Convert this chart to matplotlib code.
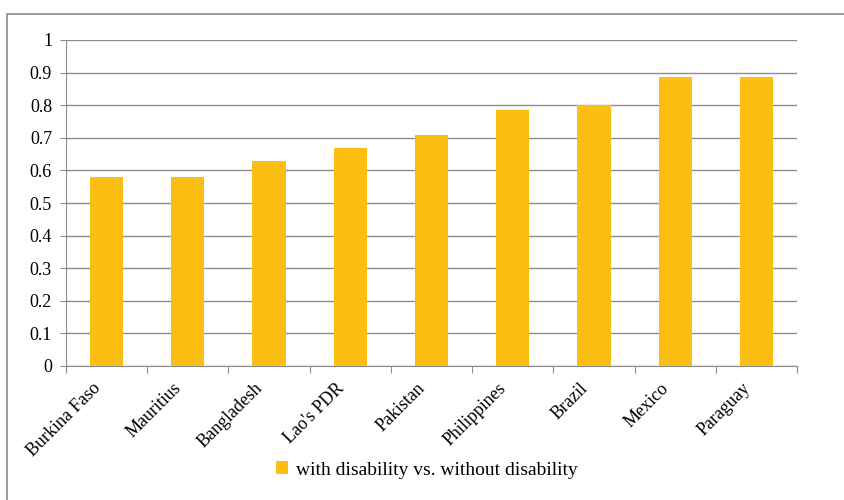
import numpy as np
import matplotlib
matplotlib.use("Agg")
import matplotlib.pyplot as plt
import matplotlib.transforms as mtransforms
from matplotlib.patches import Rectangle

countries = ["Burkina Faso", "Mauritius", "Bangladesh", "Lao's PDR", "Pakistan",
             "Philippines", "Brazil", "Mexico", "Paraguay"]
ratio = [0.58, 0.58, 0.63, 0.67, 0.71, 0.785, 0.80, 0.885, 0.885]
series_name = "with disability vs. without disability"

plt.rcParams['font.family'] = ['Liberation Serif', 'DejaVu Serif']

fig = plt.figure(figsize=(8.44, 5.0), dpi=100)
ax = fig.add_axes([66/844, 1-366/500, (797-66)/844, (366-40)/500])

x = np.arange(len(countries))
ax.bar(x, ratio, width=0.41, color="#FBBF12", label=series_name, zorder=3)

ax.set_xlim(-0.5, len(countries) - 0.5)
ax.set_ylim(0, 1)
ax.set_yticks(np.arange(0, 1.01, 0.1))
ax.set_yticklabels(["0", "0.1", "0.2", "0.3", "0.4", "0.5", "0.6", "0.7", "0.8", "0.9", "1"])
ax.yaxis.grid(True, color="#8c8c8c", linewidth=1.0, zorder=0)

# category labels, tick marks between categories
ax.set_xticks(np.arange(-0.5, len(countries), 1.0))
ax.set_xticklabels([])
ax.set_xticks(x, minor=True)
ax.set_xticklabels(countries, minor=True, rotation=45, ha="right", rotation_mode="anchor",
                   fontsize=13)
ax.tick_params(axis="x", which="minor", length=0, pad=10)
ax.tick_params(axis="x", which="major", length=5, color="#8c8c8c")
ax.tick_params(axis="y", length=4, color="#8c8c8c", labelsize=13, pad=6)

shift = mtransforms.ScaledTranslation(-0.15, 0.0, fig.dpi_scale_trans)
for lbl in ax.get_xticklabels(minor=True):
    lbl.set_transform(lbl.get_transform() + shift)

for s in ["top", "right"]:
    ax.spines[s].set_visible(False)
ax.spines["left"].set_color("#8c8c8c")
ax.spines["bottom"].set_color("#8c8c8c")

ax.legend(loc="center", bbox_to_anchor=(427/844, 1-470/500), bbox_transform=fig.transFigure,
          frameon=False, fontsize=14, handlelength=0.6, handleheight=0.6, handletextpad=0.4)

# outer chart border
fig.patches.append(Rectangle((7/844, -0.1), 1.2, 1-14/500+0.1, transform=fig.transFigure,
                             fill=False, edgecolor="#8c8c8c", linewidth=1.2, clip_on=False))

fig.savefig("out.png", dpi=100)
